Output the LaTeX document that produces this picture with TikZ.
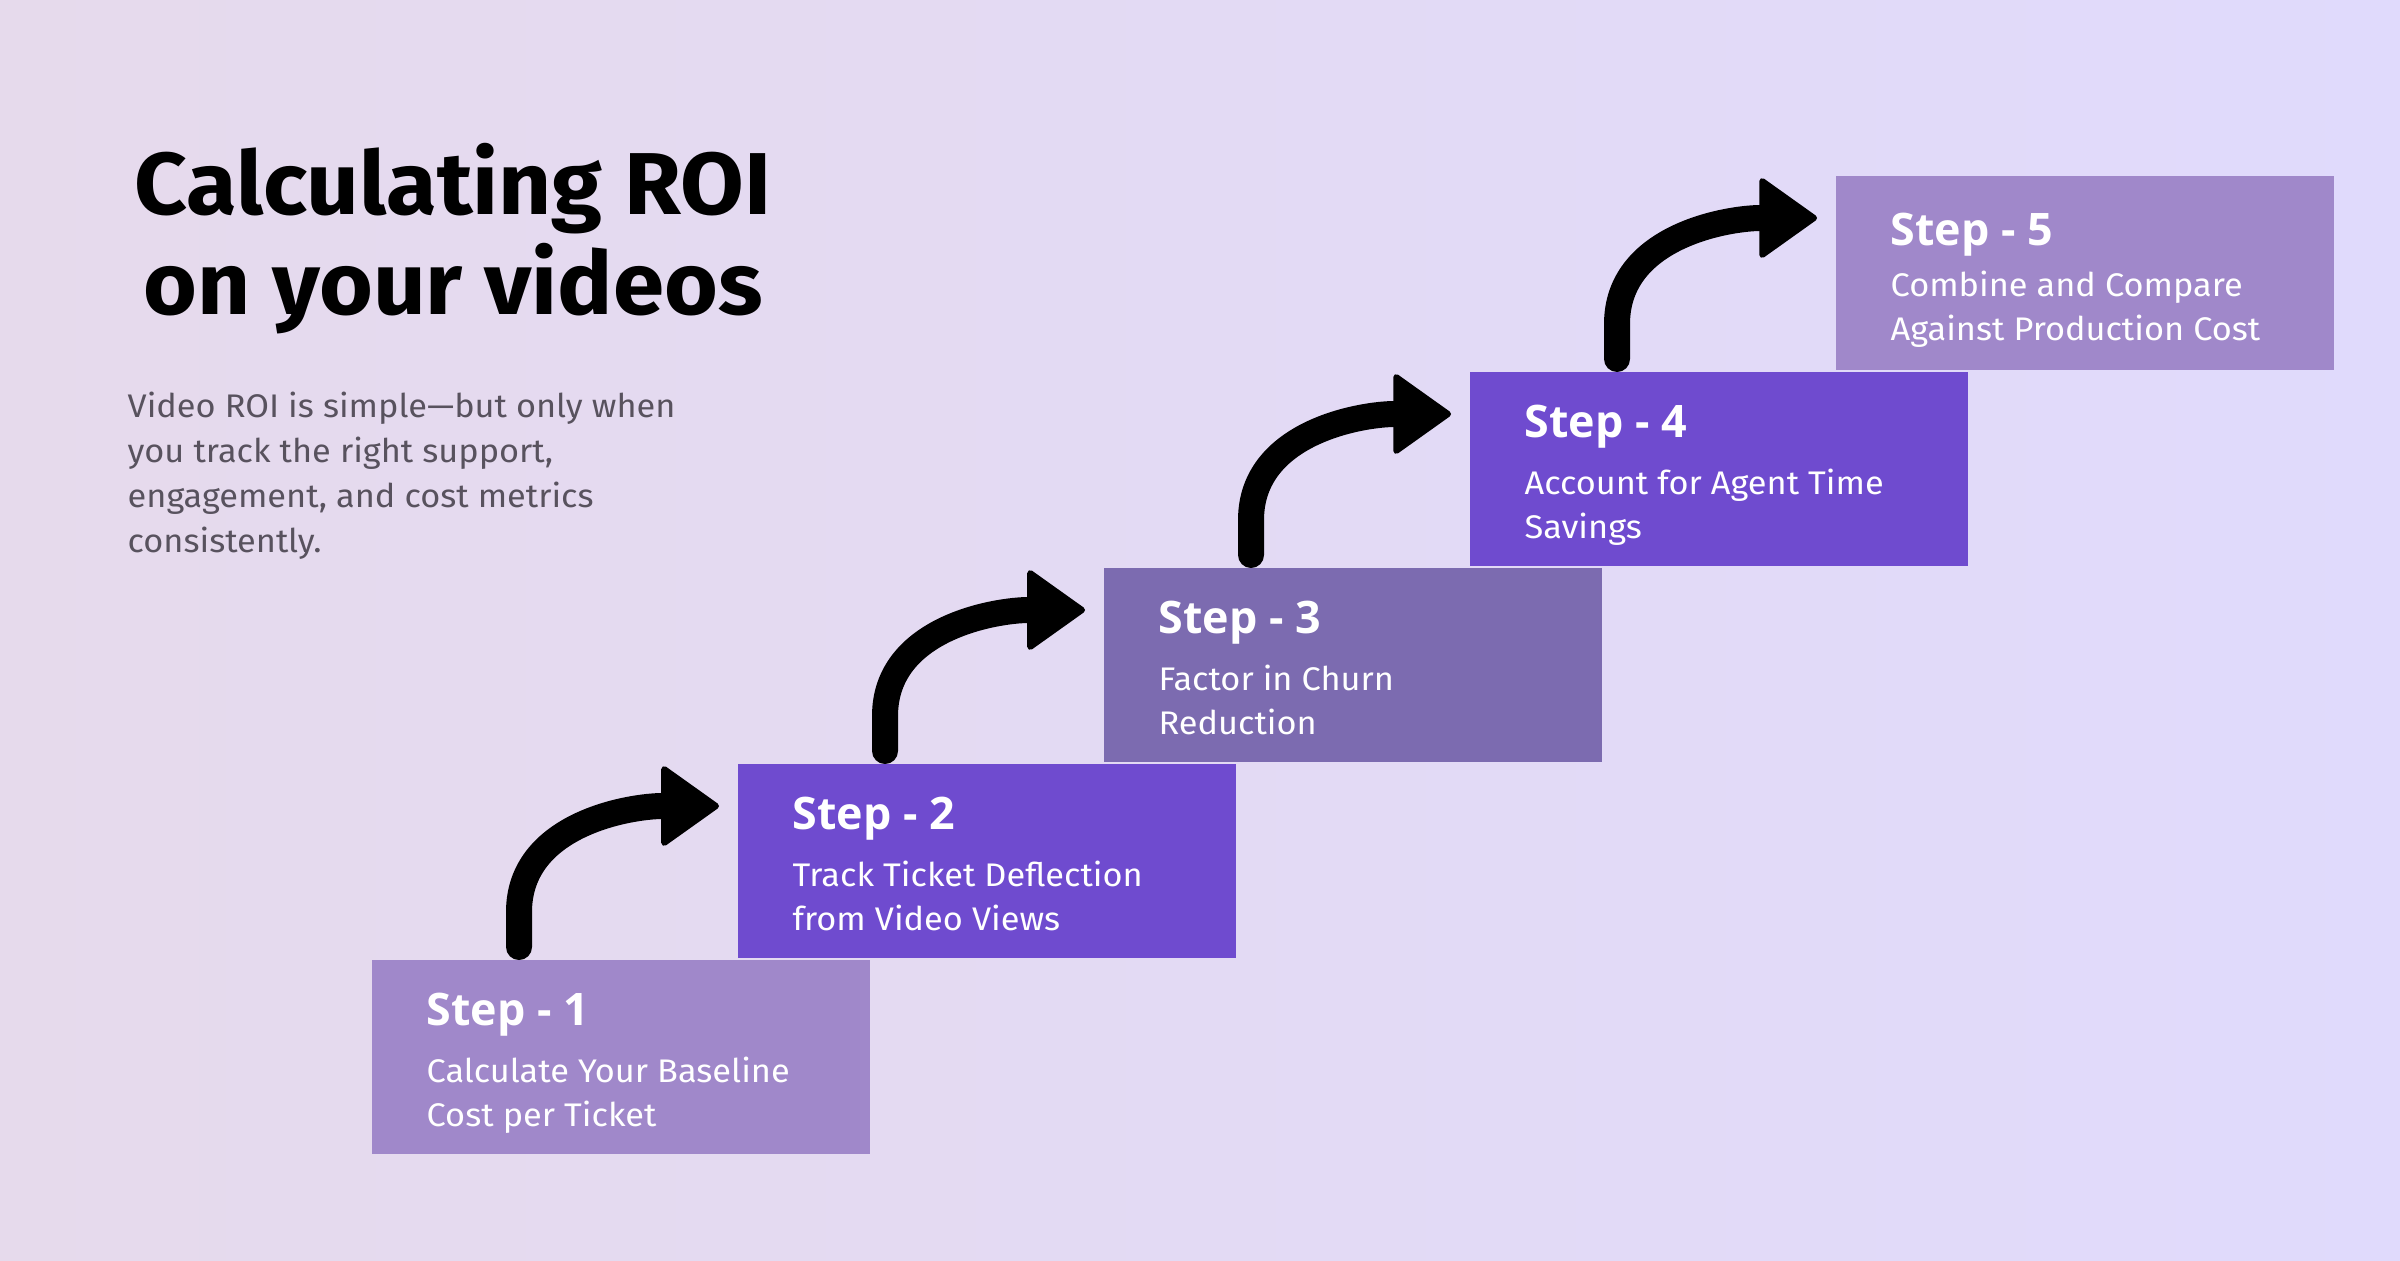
\documentclass[tikz,border=0pt]{standalone}
\usepackage{fontspec}
\setmainfont{Fira Sans}[FakeStretch=1.05]
\newfontfamily\headfont{Open Sans}
\usetikzlibrary{positioning,arrows.meta}

\definecolor{bgleft}{HTML}{E6DAEC}
\definecolor{bgright}{HTML}{E0DAFC}
\definecolor{stepsoft}{HTML}{A088CA}
\definecolor{stepdeep}{HTML}{6F4BCF}
\definecolor{stepmid}{HTML}{7C6BB0}
\definecolor{subtext}{HTML}{58525E}

\newcommand\headstyle{\headfont\bfseries\fontsize{12.75}{16}\selectfont}
\newcommand\bodystyle{\fontsize{9.3}{12.5}\selectfont}
% heading line plus two lines of body text
\newcommand\steplabel[3][0.13cm]{{\headstyle\rule{0pt}{0.65cm}Step - #2}\\[#1]#3}

\tikzset{
    stepbox/.style={rectangle, minimum width=4.98cm, minimum height=1.94cm,
        inner sep=0pt, outer sep=0pt},
    steptext/.style={anchor=north west, inner sep=0pt, align=left,
        text=white, font=\bodystyle},
    steparrow/.style={line width=0.26cm, line cap=round,
        -{Triangle[length=0.6cm, width=0.84cm, round, line width=0.06cm]}}
}

\begin{document}
\begin{tikzpicture}
\shade[left color=bgleft, right color=bgright] (0,0) rectangle (24,12.6);
\useasboundingbox (0,0) rectangle (24,12.6);

% heading and intro
\node[anchor=north, inner sep=0pt, align=center,
      font=\bfseries\fontsize{25}{28.45}\selectfont] (title) at (4.53,11.17)
    {\rule{0pt}{0.7cm}Calculating ROI\\on your videos};
\node[anchor=north west, inner sep=0pt, align=left, text=subtext,
      font=\fontsize{9.3}{12.8}\selectfont] (intro) at (1.27,8.73)
    {\rule{0pt}{0.3cm}Video ROI is simple---but only when\\
     you track the right support,\\
     engagement, and cost metrics\\
     consistently.};

% the staircase
\node[stepbox, fill=stepsoft, anchor=north west] (s1) at (3.72,3.00) {};
\node[stepbox, fill=stepdeep, above right=0.02cm and -1.32cm of s1] (s2) {};
\node[stepbox, fill=stepmid, above right=0.02cm and -1.32cm of s2] (s3) {};
\node[stepbox, fill=stepdeep, above right=0.02cm and -1.32cm of s3] (s4) {};
\node[stepbox, fill=stepsoft, above right=0.02cm and -1.32cm of s4] (s5) {};

\node[steptext, below right=0cm and 0.54cm of s1.north west] (t1)
    {\steplabel{1}{Calculate Your Baseline\\Cost per Ticket}};
\node[steptext, below right=0cm and 0.54cm of s2.north west] (t2)
    {\steplabel{2}{Track Ticket Deflection\\from Video Views}};
\node[steptext, below right=0cm and 0.54cm of s3.north west] (t3)
    {\steplabel{3}{Factor in Churn\\Reduction}};
\node[steptext, below right=0cm and 0.54cm of s4.north west] (t4)
    {\steplabel{4}{Account for Agent Time\\Savings}};
\node[steptext, below right=0.04cm and 0.54cm of s5.north west] (t5)
    {\steplabel[0.07cm]{5}{Combine and Compare\\Against Production Cost}};

% curved arrows up each step
\draw[steparrow] ([xshift=1.47cm,yshift=0.13cm]s1.north west) -- ++(0,0.35)
    to[out=90,in=180] ([xshift=-0.19cm,yshift=-0.42cm]s2.north west);
\draw[steparrow] ([xshift=1.47cm,yshift=0.13cm]s2.north west) -- ++(0,0.35)
    to[out=90,in=180] ([xshift=-0.19cm,yshift=-0.42cm]s3.north west);
\draw[steparrow] ([xshift=1.47cm,yshift=0.13cm]s3.north west) -- ++(0,0.35)
    to[out=90,in=180] ([xshift=-0.19cm,yshift=-0.42cm]s4.north west);
\draw[steparrow] ([xshift=1.47cm,yshift=0.13cm]s4.north west) -- ++(0,0.35)
    to[out=90,in=180] ([xshift=-0.19cm,yshift=-0.42cm]s5.north west);
\end{tikzpicture}
\end{document}
